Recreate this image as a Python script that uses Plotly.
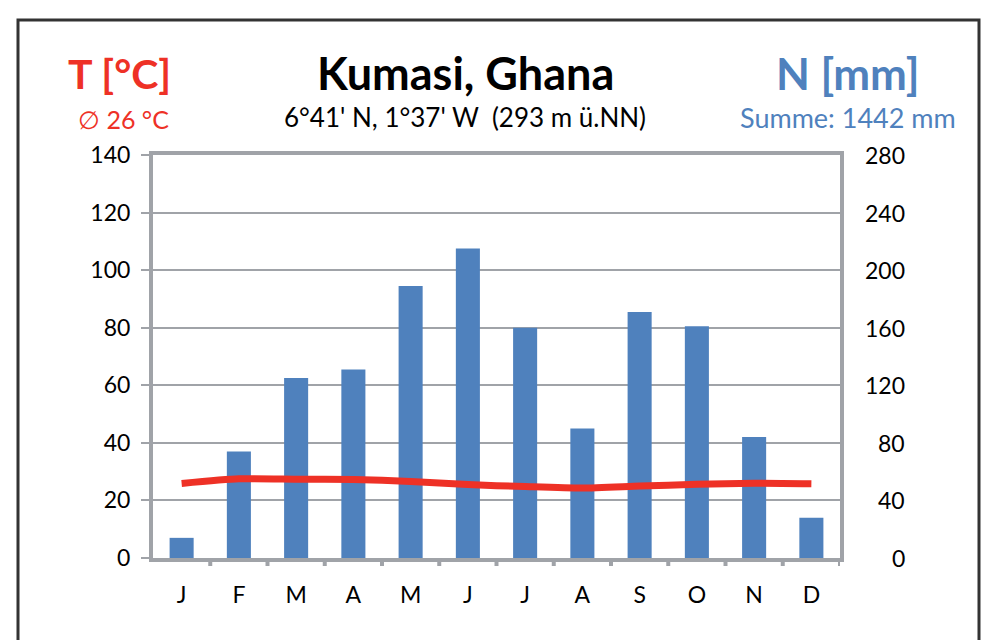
import plotly.graph_objects as go

months = ["J", "F", "M", "A", "M", "J", "J", "A", "S", "O", "N", "D"]
month_ids = list(range(12))
precip_mm = [14, 74, 125, 131, 189, 215, 160, 90, 171, 161, 84, 28]
temp_c = [25.9, 27.5, 27.4, 27.3, 26.6, 25.5, 24.8, 24.3, 25.0, 25.6, 26.0, 25.8]
t_ticks = [0, 20, 40, 60, 80, 100, 120, 140]
n_ticks = [0, 40, 80, 120, 160, 200, 240, 280]

FONT = "Lato"
RED = "#EE3126"
BLUE = "#4F81BD"
GRAY = "#A0A3A8"

fig = go.Figure()
fig.add_trace(go.Bar(x=month_ids, y=precip_mm, yaxis="y", marker=dict(color=BLUE, line=dict(width=0)),
                     width=0.42, showlegend=False))
fig.add_trace(go.Scatter(x=month_ids, y=temp_c, yaxis="y2", mode="lines",
                         line=dict(color=RED, width=7, shape="spline", smoothing=0.6),
                         showlegend=False))

OFF = 8  # page body margin
W, H = 992 - OFF, 640 - OFF
L, T = 153 - OFF, 155 - OFF
R, B = W - (840 - OFF), H - (558 - OFF)
pw, ph = W - L - R, H - T - B

def px(x):
    return (x - OFF - L) / pw

def py(y):
    return (H - B - (y - OFF)) / ph

annotations = []
for v in n_ticks:
    annotations.append(dict(x=px(907), xref="paper", y=v, yref="y", text=str(v), showarrow=False,
                            xanchor="right", yanchor="middle",
                            font=dict(family=FONT, size=23, color="#000")))

texts = [
    (px(119), py(73), "<b>T [°C]</b>", 41, RED),
    (px(465), py(73), "<b>Kumasi, Ghana</b>", 45, "#000"),
    (px(848), py(73), "<b>N [mm]</b>", 44, BLUE),
    (px(123), py(119), "∅ 26 °C", 25, RED),
    (px(465), py(117), "6°41' N, 1°37' W  (293 m ü.NN)", 26, "#000"),
    (px(848), py(117), "Summe: 1442 mm", 27, BLUE),
]
for x, y, t, s, c in texts:
    annotations.append(dict(x=x, y=y, xref="paper", yref="paper", text=t, showarrow=False,
                            xanchor="center", yanchor="middle", font=dict(family=FONT, size=s, color=c)))

fig.update_layout(
    width=W, height=H,
    margin=dict(l=L, r=R, t=T, b=B, pad=0),
    paper_bgcolor="white", plot_bgcolor="white",
    font=dict(family=FONT, size=23, color="#000"),
    bargap=0.58,
    xaxis=dict(tickmode="array", tickvals=month_ids, ticktext=months, range=[-0.5, 11.5],
               showgrid=False, showline=True, mirror=True, linecolor=GRAY, linewidth=4,
               ticks="outside", ticklen=0, tickfont=dict(size=23), ticklabelstandoff=13,
               zeroline=False),
    yaxis=dict(side="right", range=[0, 280], tickvals=n_ticks, showticklabels=False,
               showgrid=True, gridcolor=GRAY, gridwidth=1.5, showline=True, linecolor=GRAY,
               linewidth=4, zeroline=False, ticks=""),
    yaxis2=dict(side="left", overlaying="y", range=[0, 140], tickvals=t_ticks,
                showgrid=False, showline=True, linecolor=GRAY, linewidth=4, zeroline=False,
                ticks="outside", ticklen=8, tickwidth=2, tickcolor=GRAY,
                tickfont=dict(size=23), ticklabelstandoff=6),
    annotations=annotations,
    shapes=[
        dict(type="rect", xref="paper", yref="paper", x0=px(18), x1=px(979), y0=py(20), y1=py(680),
             line=dict(color="#333", width=3), fillcolor="rgba(0,0,0,0)"),
    ] + [
        dict(type="line", xref="x", yref="paper", x0=i - 0.5, x1=i - 0.5, y0=0, y1=py(566),
             line=dict(color=GRAY, width=4))
        for i in range(1, 13)
    ],
)

fig.write_html("out.html")
